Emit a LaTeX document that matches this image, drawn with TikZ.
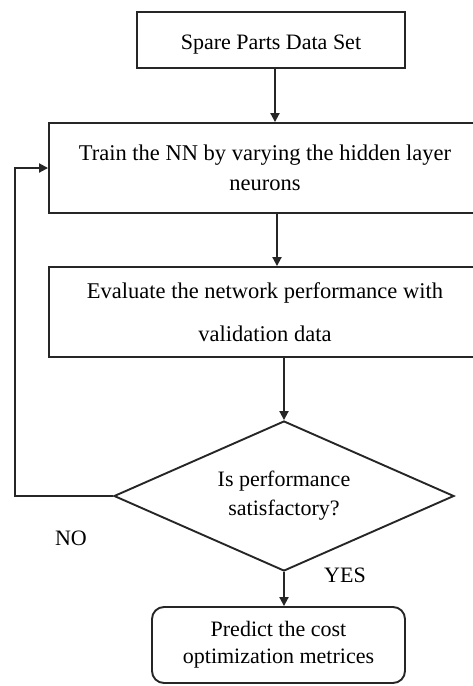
\documentclass[tikz,border=0pt]{standalone}
\usepackage{fontspec}
\setmainfont{Liberation Serif}
\usetikzlibrary{shapes.geometric,arrows.meta,calc}
\tikzset{
  stepbox/.style={draw, rectangle, line width=1.9pt, draw=black!85, inner sep=0pt, align=center},
  decide/.style={draw, draw=black!85, diamond, line width=1.9pt, inner sep=0pt, align=center, aspect=2.267, minimum width=340pt, minimum height=150pt},
  arr/.style={line width=1.9pt, draw=black!85, -{Triangle[length=9pt,width=9pt]}},
  lbl/.style={inner sep=0pt, font=\fontsize{22}{26}\selectfont}
}
\begin{document}
\begin{tikzpicture}[x=1pt,y=-1pt]
\useasboundingbox (0,0) rectangle (473,686);
\clip (0,0) rectangle (473,686);
\node[stepbox, minimum width=268pt, minimum height=56pt, text height=20pt, text depth=2pt, font=\fontsize{22}{30}\selectfont] (b1) at (271,40) {Spare Parts Data Set};
\node[stepbox, minimum width=432pt, minimum height=90pt, font=\fontsize{22.5}{30}\selectfont] (b2) at (265,168) {Train the NN by varying the hidden layer\\neurons};
\node[stepbox, minimum width=432pt, minimum height=90pt, font=\fontsize{22.5}{43}\selectfont] (b3) at (265,312) {Evaluate the network performance with\\validation data};
\node[decide, font=\fontsize{22}{29}\selectfont] (d) at (284,496) {Is performance\\satisfactory?};
\node[stepbox, rounded corners=12pt, minimum width=253pt, minimum height=76pt, font=\fontsize{22}{27}\selectfont] (b4) at (278.5,645) {Predict the cost\\optimization metrices};
\node[lbl] (no) at (71,538) {NO};
\node[lbl] (yes) at (345,575) {YES};
\coordinate (lp) at (15,496);
\draw[arr] ([xshift=4pt]b1.south) -- ([xshift=4pt]b1.south |- b2.north);
\draw[arr] ([xshift=12pt]b2.south) -- ([xshift=12pt]b2.south |- b3.north);
\draw[arr] (d.north |- b3.south) -- (d.north);
\draw[arr] (d.south) -- (d.south |- b4.north);
\draw[arr] (d.west) -- (lp) |- (b2.west);
\end{tikzpicture}
\end{document}
